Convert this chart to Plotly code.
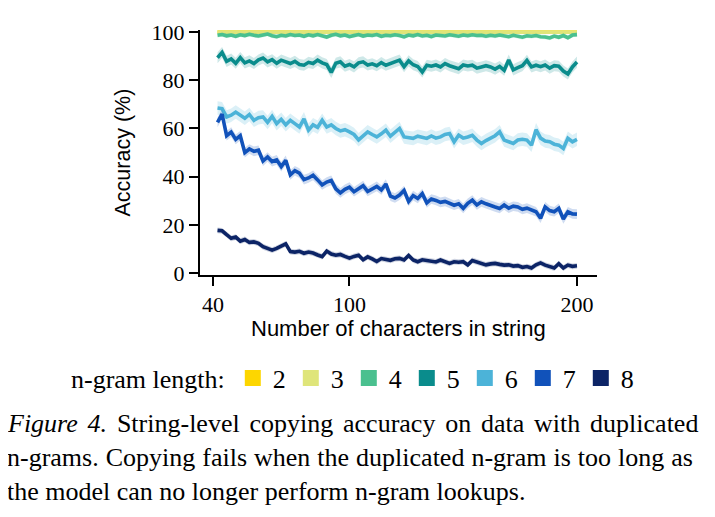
import plotly.graph_objects as go

# ---------------- data ----------------
NGRAM_LENGTHS = [2, 3, 4, 5, 6, 7, 8]
CHAR_COUNTS = list(range(42, 201, 2))
X_TICKS = [40, 100, 200]
Y_TICKS = [0, 20, 40, 60, 80, 100]

acc_n2 = [
    100.0, 100.0, 100.0, 100.0, 100.0, 100.0, 100.0, 100.0, 100.0, 100.0,
    100.0, 100.0, 100.0, 100.0, 100.0, 100.0, 100.0, 100.0, 100.0, 100.0,
    100.0, 100.0, 100.0, 100.0, 100.0, 100.0, 100.0, 100.0, 100.0, 100.0,
    100.0, 100.0, 100.0, 100.0, 100.0, 100.0, 100.0, 100.0, 100.0, 100.0,
    100.0, 100.0, 100.0, 100.0, 100.0, 100.0, 100.0, 100.0, 100.0, 100.0,
    100.0, 100.0, 100.0, 100.0, 100.0, 100.0, 100.0, 100.0, 100.0, 100.0,
    100.0, 100.0, 100.0, 100.0, 100.0, 100.0, 100.0, 100.0, 100.0, 100.0,
    100.0, 100.0, 100.0, 100.0, 100.0, 100.0, 100.0, 100.0, 100.0, 100.0,
]
acc_n3 = [
    99.9, 100.0, 99.9, 100.0, 99.9, 100.0, 99.9, 99.9, 100.0, 99.9,
    100.0, 99.9, 99.9, 100.0, 99.9, 99.9, 100.0, 99.9, 99.9, 100.0,
    99.9, 99.9, 100.0, 99.9, 99.9, 99.8, 100.0, 99.9, 100.0, 99.9,
    99.9, 100.0, 99.9, 99.9, 100.0, 99.9, 99.9, 99.9, 100.0, 99.9,
    100.0, 99.9, 99.9, 99.9, 100.0, 99.9, 99.9, 100.0, 99.9, 99.9,
    99.9, 100.0, 99.9, 99.9, 99.9, 100.0, 99.9, 99.9, 100.0, 99.9,
    99.9, 99.9, 100.0, 99.9, 99.9, 99.9, 100.0, 99.9, 99.9, 99.9,
    100.0, 99.9, 99.9, 99.9, 99.8, 99.9, 100.0, 99.9, 99.9, 99.9,
]
acc_n4 = [
    98.6, 98.9, 98.4, 98.7, 98.2, 98.8, 98.5, 99.0, 98.6, 98.3,
    98.7, 99.1, 98.4, 98.0, 98.6, 98.3, 98.9, 98.5, 98.7, 98.2,
    98.8, 98.4, 98.9, 98.3, 97.9, 98.6, 99.0, 98.4, 98.7, 98.1,
    98.6, 98.9, 98.3, 98.7, 98.5, 98.9, 98.2, 98.6, 98.4, 98.8,
    98.5, 98.0, 98.7, 98.4, 98.9, 98.3, 98.6, 98.1, 98.7, 98.5,
    98.3, 98.8, 98.5, 98.2, 98.7, 98.4, 98.8, 98.5, 98.6, 98.2,
    98.6, 98.3, 98.7, 98.5, 98.0, 98.6, 98.3, 97.8, 98.4, 98.2,
    98.5, 98.0, 97.9, 97.5, 98.3, 97.8, 98.5, 97.6, 98.7, 98.9,
]
acc_n5 = [
    89.3, 91.5, 87.8, 88.8, 87.0, 89.4, 87.2, 88.0, 86.9, 88.4,
    89.2, 87.6, 88.5, 87.0, 88.3, 87.5, 86.9, 87.8, 86.5, 86.2,
    87.4, 86.9, 88.3, 87.2, 86.5, 83.2, 87.0, 87.6, 85.8, 86.5,
    85.5, 87.2, 87.6, 86.3, 86.8, 86.0, 87.3, 86.2, 86.9, 87.5,
    88.3, 85.6, 88.0, 86.4, 85.7, 83.4, 86.2, 85.8, 86.3, 85.5,
    86.9, 86.0, 85.5, 84.8, 86.3, 85.9, 86.2, 85.0, 85.5, 86.0,
    85.5, 84.6, 85.7, 84.1, 88.4, 84.3, 85.2, 86.0, 88.2, 85.5,
    86.2, 85.6, 86.3, 85.0, 86.0, 85.8, 83.8, 82.6, 85.5, 87.5,
]
acc_n6 = [
    68.5, 68.2, 64.8, 65.5, 66.8, 65.5, 64.2, 65.8, 63.4, 64.5,
    64.8, 62.5, 65.0, 62.0, 63.8, 61.5, 63.4, 62.0, 60.6, 64.0,
    59.3, 61.5, 60.5, 63.4, 60.6, 61.5, 60.0, 59.0, 59.5, 58.6,
    57.5, 55.3, 57.0, 58.6, 57.5, 56.5, 57.8, 59.3, 56.8, 58.6,
    60.0, 56.5, 56.2, 55.9, 56.8, 56.5, 55.9, 56.9, 56.0, 56.5,
    57.5, 57.9, 54.5, 57.2, 56.0, 56.5, 57.2, 55.2, 53.8, 55.0,
    55.9, 57.0, 58.6, 55.2, 54.5, 53.8, 55.2, 55.5, 55.2, 53.1,
    59.5, 56.0, 54.8, 54.5, 53.5, 53.1, 51.7, 55.9, 54.5, 55.5,
]
acc_n7 = [
    62.5, 66.0, 57.0, 58.5, 55.5, 57.0, 50.0, 51.5, 50.5, 51.0,
    46.5, 48.2, 46.3, 47.0, 44.2, 46.8, 40.8, 42.5, 41.5, 38.8,
    39.5, 40.6, 38.7, 36.6, 37.8, 38.5, 35.0, 33.3, 34.8, 35.7,
    33.8, 35.0, 36.3, 33.9, 34.8, 36.0, 34.5, 37.0, 32.0, 31.2,
    32.4, 34.3, 29.8, 32.2, 31.0, 33.0, 29.2, 30.8, 30.2, 29.4,
    29.8, 29.0, 28.2, 28.8, 26.9, 29.0, 30.3, 28.3, 29.6, 28.8,
    28.3, 27.5, 26.9, 28.3, 27.0, 27.8, 27.5, 26.5, 27.0, 26.2,
    25.5, 22.8, 27.5, 26.0, 25.5, 26.9, 22.5, 25.5, 24.6, 24.5,
]
acc_n8 = [
    17.8, 17.6, 16.0, 14.5, 15.0, 13.3, 14.0, 12.8, 13.0, 12.4,
    11.0, 10.3, 9.6, 10.3, 11.3, 12.2, 9.0, 8.8, 9.1, 8.3,
    8.8, 8.4, 7.6, 6.9, 9.2, 8.0, 7.5, 7.8, 7.0, 6.3,
    7.0, 7.5, 5.6, 6.8, 6.0, 4.9, 6.1, 5.8, 5.4, 6.0,
    6.2, 5.5, 7.4, 5.5, 4.8, 5.6, 5.2, 5.0, 4.7, 5.5,
    4.9, 4.1, 4.8, 4.6, 4.8, 3.5, 5.3, 4.6, 4.0, 3.5,
    3.9, 4.1, 3.7, 3.4, 3.5, 3.0, 3.2, 2.5, 2.8, 2.2,
    3.5, 4.3, 3.4, 2.8, 2.2, 4.0, 2.2, 3.4, 2.9, 3.1,
]
ACCURACY = [acc_n2, acc_n3, acc_n4, acc_n5, acc_n6, acc_n7, acc_n8]
# half-width of the shaded uncertainty band for each n-gram length
BAND_HALFWIDTH = [0.2, 0.3, 0.9, 2.3, 2.8, 2.0, 1.2]

CAPTION_LINES = [
    "<i>Figure 4.</i> String-level copying accuracy on data with duplicated",
    "n-grams. Copying fails when the duplicated n-gram is too long as",
    "the model can no longer perform n-gram lookups.",
]

# ---------------- style ----------------
COLORS = ["#FDD600", "#DFE57A", "#4AC08F", "#0A8C8C", "#4CB3D8", "#1152BA", "#0C2466"]
SERIF = "Liberation Serif"
SANS = "Liberation Sans"
W, H = 715, 517
OFF = 8  # page body margin: figure is drawn 8px right/down in the page
# plot area in page pixels: x 200..597, y 30..275
L, T = 200 - OFF, 30 - OFF
PW, PH = 397, 245
R, B = W - L - PW, H - T - PH


def px_x(p):
    """page pixel x -> paper coordinate"""
    return (p - OFF - L) / PW


def px_y(p):
    """page pixel y -> paper coordinate"""
    return (T + PH - (p - OFF)) / PH


def rgba(hexc, a):
    h = hexc.lstrip("#")
    return "rgba(%d,%d,%d,%.2f)" % (int(h[0:2], 16), int(h[2:4], 16), int(h[4:6], 16), a)


fig = go.Figure()
for n, vals, hw, col in zip(NGRAM_LENGTHS, ACCURACY, BAND_HALFWIDTH, COLORS):
    upper = [v + hw for v in vals]
    lower = [v - hw for v in vals]
    fig.add_trace(go.Scatter(x=CHAR_COUNTS, y=upper, mode="lines", line=dict(width=0),
                             showlegend=False, hoverinfo="skip"))
    fig.add_trace(go.Scatter(x=CHAR_COUNTS, y=lower, mode="lines", line=dict(width=0),
                             fill="tonexty", fillcolor=rgba(col, 0.2),
                             showlegend=False, hoverinfo="skip"))
    fig.add_trace(go.Scatter(x=CHAR_COUNTS, y=vals, mode="lines",
                             line=dict(color=col, width=3.6), showlegend=False,
                             name=str(n)))

# legend entries (square swatches)
for n, col in zip(NGRAM_LENGTHS, COLORS):
    fig.add_trace(go.Scatter(x=[None], y=[None], mode="markers", name=str(n),
                             marker=dict(symbol="square", size=18, color=col),
                             showlegend=True))

axis_common = dict(showline=True, linecolor="black", linewidth=2, ticks="outside",
                   ticklen=9, tickwidth=2, tickcolor="black", showgrid=False,
                   zeroline=False, tickfont=dict(family=SERIF, size=22, color="black"))

fig.update_layout(
    width=W, height=H,
    margin=dict(l=L, r=R, t=T, b=B),
    paper_bgcolor="white", plot_bgcolor="white",
    xaxis=dict(range=[34.3, 208.8], tickvals=X_TICKS, **axis_common),
    yaxis=dict(range=[-0.7, 100.8], tickvals=Y_TICKS, **axis_common),
    legend=dict(orientation="h", x=px_x(69), xanchor="left", y=px_y(378), yanchor="middle",
                traceorder="normal",
                title=dict(text="n-gram length:", side="left",
                           font=dict(family=SERIF, size=26, color="black")),
                font=dict(family=SERIF, size=26, color="black"),
                itemwidth=30, bgcolor="rgba(0,0,0,0)"),
)

annotations = [
    dict(text="Number of characters in string", x=px_x(398), y=px_y(328), xref="paper",
         yref="paper", showarrow=False, xanchor="center", yanchor="middle",
         font=dict(family=SANS, size=22, color="black")),
    dict(text="Accuracy (%)", x=px_x(122), y=px_y(152.5), xref="paper", yref="paper",
         showarrow=False, xanchor="center", yanchor="middle", textangle=-90,
         font=dict(family=SANS, size=21.5, color="black")),
]
caption_y = [423, 457.5, 491.5]
word_spacing = [3.3, 0.5, 0]
for line, yy, ws in zip(CAPTION_LINES, caption_y, word_spacing):
    txt = line if ws == 0 else '<span style="word-spacing:%.1fpx">%s</span>' % (ws, line)
    annotations.append(dict(text=txt, x=px_x(5), y=px_y(yy), xref="paper", yref="paper",
                            showarrow=False, xanchor="left", yanchor="middle",
                            font=dict(family=SERIF, size=26, color="black")))
fig.update_layout(annotations=annotations)

fig.write_html("out.html")
